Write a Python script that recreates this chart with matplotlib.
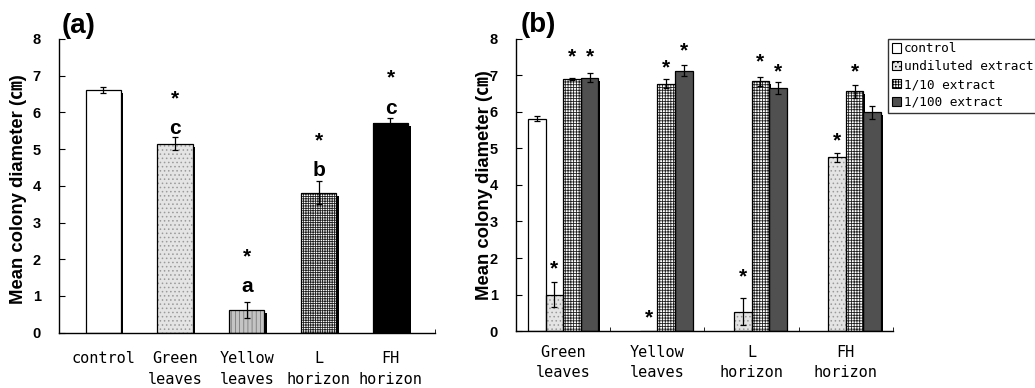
import numpy as np
import matplotlib
matplotlib.use("Agg")
import matplotlib.pyplot as plt
from matplotlib.patches import Patch

plt.rcParams['hatch.linewidth'] = 0.6

# ---- panel (a) data ----
a_labels = ["control", "Green\nleaves", "Yellow\nleaves", "L\nhorizon", "FH\nhorizon"]
a_means = [6.61, 5.15, 0.62, 3.81, 5.72]
a_err = [0.09, 0.17, 0.23, 0.31, 0.14]
a_letters = ["", "c", "a", "b", "c"]
a_letter_y = [None, 5.57, 1.27, 4.41, 6.11]
a_star_y = [None, 6.39, 2.10, 5.25, 6.96]

# ---- panel (b) data ----
b_groups = ["Green\nleaves", "Yellow\nleaves", "L\nhorizon", "FH\nhorizon"]
b_series = ["control", "undiluted extract", "1/10 extract", "1/100 extract"]
b_control = [5.82, np.nan, np.nan, np.nan]
b_undiluted = [1.00, 0.0, 0.53, 4.76]
b_tenth = [6.91, 6.78, 6.84, 6.57]
b_hundredth = [6.94, 7.13, 6.65, 5.99]
b_control_err = [0.08, 0, 0, 0]
b_undiluted_err = [0.33, 0, 0.37, 0.12]
b_tenth_err = [0.03, 0.13, 0.13, 0.18]
b_hundredth_err = [0.12, 0.15, 0.16, 0.17]
b_undiluted_star = [1.72, 0.39, 1.52, 5.23]
b_tenth_star = [7.53, 7.24, 7.41, 7.12]
b_hundredth_star = [7.53, 7.70, 7.12, None]

mono = "DejaVu Sans Mono"
sans = ["Liberation Sans", "Noto Sans CJK KR"]

# styles: (facecolor, hatch, hatchcolor)
styles = {
    "white": ("white", None, None),
    "dots": ("#e4e4e4", "....", "#9a9a9a"),
    "vlines": ("#c4c4c4", "||||", "#7a7a7a"),
    "grid_dark": ("white", "+++++++", "#202020"),
    "grid": ("white", "++++++", "#202020"),
    "black": ("black", None, None),
    "dark": ("#505050", None, None),
}


def draw_bar(ax, x, h, w, style, err, shadow_dx):
    if np.isnan(h):
        return
    fc, hatch, hc = styles[style]
    # shadow
    ax.bar(x + shadow_dx, max(h - 0.08, 0), w, color="black", zorder=1)
    ax.bar(x, h, w, color=fc, hatch=hatch, edgecolor=hc if hc else fc,
           linewidth=0, zorder=2)
    ax.bar(x, h, w, fill=False, edgecolor="black", linewidth=0.9, zorder=3)
    if err:
        ax.errorbar(x, h, yerr=err, fmt="none", ecolor="black", elinewidth=0.9,
                    capsize=2.2, capthick=0.9, zorder=4)


def star(ax, x, y):
    ax.annotate("*", (x, y), xytext=(0, -4.8), textcoords="offset points",
                ha="center", va="baseline", fontsize=15, fontweight="bold",
                family=sans)


def style_axes(ax):
    for s in ["top", "right"]:
        ax.spines[s].set_visible(False)
    for s in ["left", "bottom"]:
        ax.spines[s].set_linewidth(1.0)
    ax.set_ylim(0, 8)
    ax.set_yticks(range(0, 9))
    ax.tick_params(axis="y", direction="in", length=4, pad=13, labelsize=10.5)
    for t in ax.get_yticklabels():
        t.set_fontweight("bold")
        t.set_family(sans)
    ax.set_ylabel("Mean colony diameter (㎝)", fontsize=13.3, fontweight="bold",
                  family=sans)


fig = plt.figure(figsize=(10.35, 3.88), dpi=100)

# ---- panel (a) ----
ax1 = fig.add_axes([0.0567, 0.1425, 0.3636, 0.757])
a_styles = ["white", "dots", "vlines", "grid_dark", "black"]
xa = np.arange(len(a_means))
for i in range(len(a_means)):
    draw_bar(ax1, xa[i], a_means[i], 0.49, a_styles[i], a_err[i], 0.035)
    if a_letters[i]:
        ax1.text(xa[i], a_letter_y[i], a_letters[i], ha="center", va="center",
                 fontsize=15, fontweight="bold", family=sans)
    if a_star_y[i] is not None:
        star(ax1, xa[i], a_star_y[i])
ax1.set_xlim(-0.62, 4.62)
ax1.set_xticks(xa)
ax1.set_xticklabels(a_labels, family=mono, fontsize=11, linespacing=1.5)
ax1.tick_params(axis="x", length=0, pad=13)
ax1.set_xticks([4.62], minor=True)
ax1.tick_params(axis="x", which="minor", direction="in", length=3)
style_axes(ax1)
ax1.yaxis.set_label_coords(-0.084, 0.49)
fig.text(0.060, 0.932, "(a)", fontsize=20, fontweight="bold", family=sans,
         va="center", ha="left")

# ---- panel (b) ----
ax2 = fig.add_axes([0.4986, 0.1469, 0.364, 0.7526])
xb = np.arange(len(b_groups))
w = 0.187
b_vals = [b_control, b_undiluted, b_tenth, b_hundredth]
b_errs = [b_control_err, b_undiluted_err, b_tenth_err, b_hundredth_err]
b_styles = ["white", "dots", "grid", "dark"]
for k in range(4):
    for i in range(len(b_groups)):
        draw_bar(ax2, xb[i] + (k - 1.5) * w, b_vals[k][i], w, b_styles[k],
                 b_errs[k][i], 0.018)
b_stars = [[None] * 4, b_undiluted_star, b_tenth_star, b_hundredth_star]
for k in range(4):
    for i in range(len(b_groups)):
        if b_stars[k][i] is not None:
            star(ax2, xb[i] + (k - 1.5) * w, b_stars[k][i])
ax2.set_xlim(-0.5, 3.5)
ax2.set_xticks(xb)
ax2.set_xticklabels(b_groups, family=mono, fontsize=11, linespacing=1.45)
ax2.tick_params(axis="x", length=0, pad=10)
ax2.set_xticks([0.5, 1.5, 2.5, 3.5], minor=True)
ax2.tick_params(axis="x", which="minor", direction="in", length=3)
style_axes(ax2)
ax2.yaxis.set_label_coords(-0.061, 0.5)
fig.text(0.503, 0.935, "(b)", fontsize=20, fontweight="bold", family=sans,
         va="center", ha="left")

handles = []
for k in range(4):
    fc, hatch, hc = styles[b_styles[k]]
    handles.append(Patch(facecolor=fc, hatch=hatch, edgecolor="black",
                         linewidth=0.8, label=b_series[k]))
leg = fig.legend(handles=handles, loc="upper left",
                 bbox_to_anchor=(888 / 1035, 1 - 38.5 / 388),
                 prop={"family": mono, "size": 9.2}, frameon=True, fancybox=False,
                 edgecolor="black", handlelength=0.75, handleheight=0.75,
                 handletextpad=0.2, borderpad=0.3, labelspacing=0.38,
                 borderaxespad=0)
leg.get_frame().set_linewidth(1.0)

fig.savefig("out.png", dpi=100)
